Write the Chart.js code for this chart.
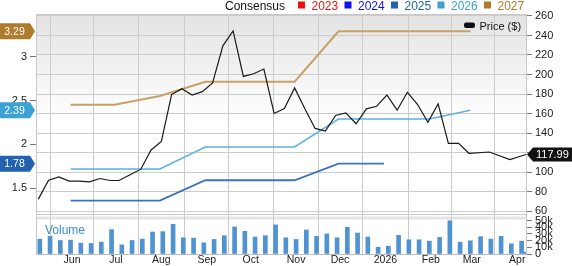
<!DOCTYPE html>
<html><head><meta charset="utf-8">
<script src="https://cdn.jsdelivr.net/npm/chart.js@4.4.1/dist/chart.umd.min.js"></script>
<style>html,body{margin:0;padding:0;background:#fff;}canvas{display:block;}</style>
</head><body>
<canvas id="c" width="572" height="266"></canvas>
<script>
// ---------- data ----------
const priceDates = ['2025-05-09','2025-05-16','2025-05-23','2025-05-30','2025-06-06','2025-06-13','2025-06-20','2025-06-27',
  '2025-07-03','2025-07-11','2025-07-18','2025-07-25','2025-08-01','2025-08-08','2025-08-15','2025-08-22','2025-08-29',
  '2025-09-05','2025-09-12','2025-09-19','2025-09-26','2025-10-03','2025-10-10','2025-10-17','2025-10-24','2025-10-31',
  '2025-11-07','2025-11-14','2025-11-21','2025-11-28','2025-12-05','2025-12-12','2025-12-19','2025-12-26',
  '2026-01-02','2026-01-09','2026-01-16','2026-01-23','2026-01-30','2026-02-06','2026-02-13','2026-02-20','2026-02-27',
  '2026-03-13','2026-03-27','2026-04-07'];
const priceValues = [72.2,91.6,95,90.6,90.6,89.9,93.3,91.3,
  91.3,97.4,102.9,122.6,131.4,179.4,185.5,179,182.4,
  191.3,229.4,244.7,198,200.8,205.6,160,165,186.2,
  164.8,144.7,142,158,160.7,149.5,164.8,167.4,
  179,163.4,181.8,169.2,151.1,169.9,129.4,129.4,119.2,
  120.5,112.8,117.99];

const epsDates = ['2025-05-31','2025-06-30','2025-07-31','2025-08-31','2025-09-30','2025-10-31','2025-11-30','2025-12-31','2026-01-31','2026-02-28'];
const eps2025 = [1.358,1.358,1.358,1.591,1.591,1.591,1.78,1.78,null,null];
const eps2026 = [1.719,1.719,1.719,1.97,1.97,1.97,2.29,2.29,2.29,2.39];
const eps2027 = [2.453,2.453,2.552,2.715,2.715,2.715,3.29,3.29,3.29,3.29];

const volDates = ['2025-05-10','2025-05-17','2025-05-24','2025-05-31','2025-06-07','2025-06-14','2025-06-21','2025-06-28',
  '2025-07-05','2025-07-12','2025-07-19','2025-07-26','2025-08-02','2025-08-09','2025-08-16','2025-08-23','2025-08-30',
  '2025-09-06','2025-09-13','2025-09-20','2025-09-27','2025-10-04','2025-10-11','2025-10-18','2025-10-25',
  '2025-11-01','2025-11-08','2025-11-15','2025-11-22','2025-11-29','2025-12-06','2025-12-13','2025-12-20','2025-12-27',
  '2026-01-03','2026-01-10','2026-01-17','2026-01-24','2026-01-31','2026-02-07','2026-02-14','2026-02-21','2026-02-28',
  '2026-03-07','2026-03-14','2026-03-21','2026-03-28','2026-04-04','2026-04-07'];
const volValues = [22200,26300,20200,20700,16200,15700,17700,36400,
  13600,20200,22200,32800,33300,44400,24200,23700,16700,
  21700,27300,40400,33800,25300,27300,43400,24200,
  21700,35900,26300,29800,24200,39900,31300,25300,10100,
  11600,27800,21200,21200,19200,24700,49500,17700,19700,
  25800,22200,26300,15200,19200,3000];

const monthTickDates = ['2025-06-01','2025-07-01','2025-08-01','2025-09-01','2025-10-01','2025-11-01','2025-12-01','2026-01-01','2026-02-01','2026-03-01','2026-04-01'];
const monthLabels = ['Jun','Jul','Aug','Sep','Oct','Nov','Dec','2026','Feb','Mar','Apr'];
const priceTicks = [60,80,100,120,140,160,180,200,220,240,260];
const epsTicks = [1.5,2,2.5,3];
const volTicks = [0,10000,20000,30000,40000,50000];

const legendYears = ['2023','2024','2025','2026','2027'];
const legendColors = ['#ee1111','#1111ee','#2262b0','#3aa2d4','#b07a2c'];

// ---------- helpers ----------
const FONT = '"Liberation Sans", Arial, Helvetica, sans-serif';
const DAY0 = Date.parse('2025-06-01');
const toDay = s => (Date.parse(s) - DAY0) / 86400000;
const xy = (dates, vals) => dates.map((d, i) => ({x: toDay(d), y: vals[i]})).filter(p => p.y !== null);
const lastOf = arr => { for (let i = arr.length - 1; i >= 0; i--) if (arr[i] !== null) return arr[i]; };
const fixW = w => s => { s.width = w; s.paddingTop = 0; s.paddingBottom = 0; };

const overlay = {
  id: 'overlay',
  beforeDraw(chart) {
    const {ctx, chartArea: a, scales} = chart;
    const pb = scales.y.getPixelForValue(56.9);
    ctx.save();
    const g = ctx.createLinearGradient(0, a.top, 0, a.top + 105);
    g.addColorStop(0, '#e3e3e3');
    g.addColorStop(1, '#ffffff');
    ctx.fillStyle = g;
    ctx.fillRect(a.left, a.top, a.right - a.left, pb - a.top);
    ctx.fillStyle = '#e4e4e4';
    ctx.fillRect(a.left, pb + 2.5, a.right - a.left, 3);
    ctx.strokeStyle = '#c8c8c8';
    ctx.lineWidth = 1;
    ctx.beginPath(); ctx.moveTo(a.left, Math.round(pb) + 0.5); ctx.lineTo(a.right, Math.round(pb) + 0.5); ctx.stroke();
    ctx.restore();
  },
  afterDraw(chart) {
    const {ctx, chartArea: a, scales} = chart;
    ctx.save();
    // top border
    ctx.strokeStyle = '#c8c8c8'; ctx.lineWidth = 1;
    ctx.beginPath(); ctx.moveTo(a.left, a.top + 0.5); ctx.lineTo(a.right, a.top + 0.5); ctx.stroke();
    // consensus legend
    ctx.font = '12px ' + FONT; ctx.textBaseline = 'alphabetic'; ctx.textAlign = 'left';
    ctx.fillStyle = '#111';
    ctx.fillText('Consensus', 225, 10);
    legendYears.forEach((yr, i) => {
      const x0 = 298 + i * 46.5;
      ctx.fillStyle = legendColors[i];
      ctx.fillRect(x0, 1.5, 7, 7);
      ctx.fillText(yr, x0 + 13.5, 10);
    });
    // price legend
    ctx.fillStyle = '#111';
    ctx.beginPath(); ctx.roundRect(464, 22.5, 11, 5.5, 2); ctx.fill();
    ctx.font = '11px ' + FONT;
    ctx.fillText('Price ($)', 479.5, 29.5);
    // volume label
    ctx.font = '12px ' + FONT; ctx.fillStyle = '#3a8fd2';
    ctx.fillText('Volume', 45, 233.5);
    // left badges
    const badges = [[lastOf(eps2027), legendColors[4]], [lastOf(eps2026), legendColors[3]], [lastOf(eps2025), legendColors[2]]];
    ctx.font = '10.5px ' + FONT; ctx.textBaseline = 'middle'; ctx.textAlign = 'center';
    badges.forEach(([v, col]) => {
      const c = scales.yEps.getPixelForValue(v);
      ctx.fillStyle = col;
      ctx.beginPath();
      ctx.moveTo(0, c - 8); ctx.lineTo(30, c - 8); ctx.lineTo(35, c); ctx.lineTo(30, c + 8); ctx.lineTo(0, c + 8); ctx.closePath();
      ctx.fill();
      ctx.fillStyle = '#fff';
      ctx.fillText(v.toFixed(2), 14.5, c + 0.5);
    });
    // right badge
    const pv = priceValues[priceValues.length - 1];
    const pc = scales.y.getPixelForValue(pv);
    ctx.fillStyle = '#111';
    ctx.beginPath();
    ctx.moveTo(527, pc); ctx.lineTo(533, pc - 7); ctx.lineTo(572, pc - 7); ctx.lineTo(572, pc + 7); ctx.lineTo(533, pc + 7); ctx.closePath();
    ctx.fill();
    ctx.fillStyle = '#fff'; ctx.textAlign = 'left'; ctx.font = '11px ' + FONT;
    ctx.fillText(pv.toFixed(2), 536, pc + 0.5);
    ctx.restore();
  }
};

new Chart(document.getElementById('c'), {
  type: 'line',
  data: {
    datasets: [
      {label: '2027', data: xy(epsDates, eps2027), yAxisID: 'yEps', borderColor: '#c9a066', borderWidth: 2, pointRadius: 0, tension: 0, order: 3},
      {label: '2026', data: xy(epsDates, eps2026), yAxisID: 'yEps', borderColor: '#5cb3e0', borderWidth: 1.6, pointRadius: 0, tension: 0, order: 3},
      {label: '2025', data: xy(epsDates, eps2025), yAxisID: 'yEps', borderColor: '#3c72c2', borderWidth: 1.8, pointRadius: 0, tension: 0, order: 3},
      {label: 'Price ($)', data: xy(priceDates, priceValues), yAxisID: 'y', borderColor: '#1a1a1a', borderWidth: 1.2, pointRadius: 0, tension: 0, order: 1},
      {type: 'bar', label: 'Volume', data: xy(volDates, volValues), yAxisID: 'yVol', backgroundColor: '#4f93d3', barThickness: 4, order: 4}
    ]
  },
  options: {
    responsive: false,
    animation: false,
    events: [],
    layout: {padding: {top: 14, left: 0, right: 0, bottom: 0}},
    plugins: {legend: {display: false}, tooltip: {enabled: false}},
    scales: {
      x: {
        type: 'linear', min: -24.6, max: 310, offset: false,
        afterBuildTicks: s => { s.ticks = monthTickDates.map(d => ({value: toDay(d)})); },
        ticks: {autoSkip: false, maxRotation: 0, padding: 0, color: '#222', font: {family: FONT, size: 10.5},
          callback: (v, i) => monthLabels[i]},
        grid: {color: '#cccccc', drawTicks: false},
        border: {color: '#bbbbbb'},
        afterFit: s => { s.height = 12; s.paddingLeft = 0; s.paddingRight = 0; }
      },
      y: {
        position: 'right', weight: 0, stack: 'right', stackWeight: 203, min: 53.85, max: 262.05,
        afterBuildTicks: s => { s.ticks = priceTicks.map(v => ({value: v})); },
        ticks: {color: '#222', padding: 3, autoSkip: false, font: {family: FONT, size: 11}},
        grid: {color: '#cccccc', tickColor: '#777', tickLength: 6},
        border: {color: '#c8c8c8'},
        afterFit: fixW(46)
      },
      yVol: {
        position: 'right', weight: 1, stack: 'right', stackWeight: 37, min: 0, max: 55224,
        afterBuildTicks: s => { s.ticks = volTicks.map(v => ({value: v})); },
        ticks: {color: '#222', padding: 3, autoSkip: false, font: {family: FONT, size: 11},
          callback: v => v === 0 ? '0' : (v / 1000) + 'k'},
        grid: {drawOnChartArea: false, tickColor: '#777', tickLength: 6},
        border: {color: '#c8c8c8'},
        afterFit: fixW(46)
      },
      yEps: {
        position: 'left', min: 0.75, max: 3.487,
        afterBuildTicks: s => { s.ticks = epsTicks.map(v => ({value: v})); },
        ticks: {color: '#222', padding: 3, autoSkip: false, font: {family: FONT, size: 11}, callback: v => String(v)},
        grid: {drawOnChartArea: false, tickColor: '#777', tickLength: 6},
        border: {color: '#c8c8c8'},
        afterFit: fixW(36)
      }
    }
  },
  plugins: [overlay]
});
</script>
</body></html>
